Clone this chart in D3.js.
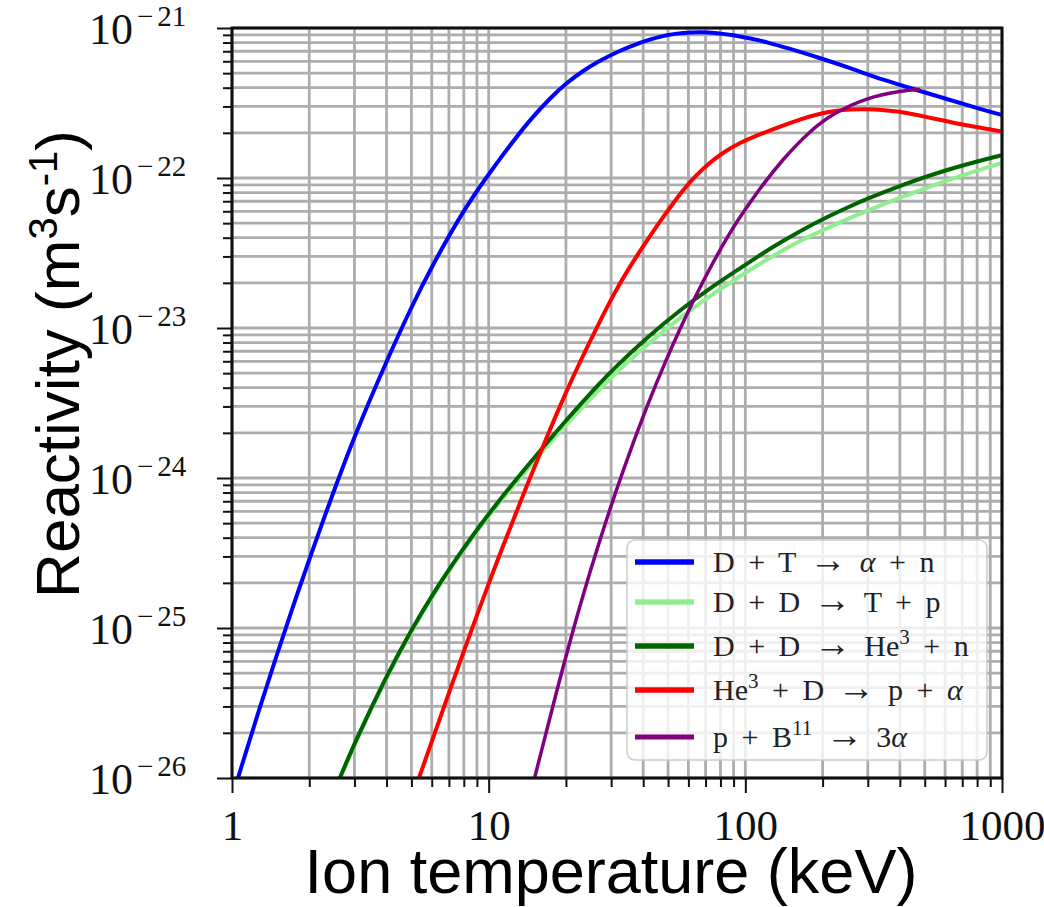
<!DOCTYPE html>
<html>
<head>
<meta charset="utf-8">
<script src="https://cdn.jsdelivr.net/npm/d3@7/dist/d3.min.js"></script>
<style>
  html, body { margin: 0; padding: 0; background: #fff; }
  svg { display: block; }
</style>
</head>
<body>
<svg id="chart" width="1044" height="907"></svg>
<script>
// Fusion reactivity <sigma v> (m^3 s^-1) versus ion temperature (keV)

// D + T -> alpha + n
const dtTemp = [1.055, 1.25, 1.5, 1.75, 2, 2.5, 3, 4, 5, 6, 8, 10, 12, 14.5, 17.3, 20, 23.3, 27, 31.6, 36, 42.4, 50, 57, 66.5, 78, 89.5, 105, 121, 150, 190, 256, 344, 466, 628, 845, 1000];
const dtRate = [1.0e-26, 2.57e-26, 6.76e-26, 1.48e-25, 2.88e-25, 8.32e-25, 1.91e-24, 6.03e-24, 1.38e-23, 2.57e-23, 6.17e-23, 1.06e-22, 1.62e-22, 2.45e-22, 3.39e-22, 4.27e-22, 5.19e-22, 6.03e-22, 6.92e-22, 7.59e-22, 8.41e-22, 9.02e-22, 9.29e-22, 9.4e-22, 9.27e-22, 8.97e-22, 8.51e-22, 8.07e-22, 7.24e-22, 6.41e-22, 5.41e-22, 4.5e-22, 3.86e-22, 3.31e-22, 2.84e-22, 2.63e-22];

// D + D -> T + p
const ddTpTemp = [2.63, 3, 4, 5, 6, 7.3, 9.25, 11, 13.25, 16.8, 20.1, 22.7, 27.2, 30.6, 41.3, 55.7, 75, 101.6, 130, 163, 214, 256, 300, 400, 530, 707, 1000];
const ddTpRate = [9.77e-27, 1.67e-26, 4.71e-26, 9.53e-26, 1.6e-25, 2.68e-25, 4.73e-25, 6.85e-25, 1.0e-24, 1.62e-24, 2.28e-24, 2.84e-24, 3.94e-24, 4.86e-24, 7.76e-24, 1.17e-23, 1.7e-23, 2.37e-23, 3.08e-23, 3.81e-23, 4.73e-23, 5.42e-23, 6.07e-23, 7.38e-23, 8.83e-23, 1.05e-22, 1.26e-22];

// D + D -> He3 + n
const ddHeTemp = [2.63, 3, 4, 5, 6, 7.3, 9.25, 11, 13.25, 16.8, 20.1, 22.7, 27.2, 30.6, 41.3, 55.7, 75, 101.6, 130, 163, 214, 256, 300, 400, 530, 707, 1000];
const ddHeRate = [1.0e-26, 1.71e-26, 4.82e-26, 9.75e-26, 1.64e-25, 2.74e-25, 4.84e-25, 7.1e-25, 1.05e-24, 1.71e-24, 2.44e-24, 3.08e-24, 4.32e-24, 5.33e-24, 8.61e-24, 1.32e-23, 1.91e-23, 2.69e-23, 3.53e-23, 4.43e-23, 5.62e-23, 6.49e-23, 7.3e-23, 8.87e-23, 1.05e-22, 1.22e-22, 1.42e-22];

// He3 + D -> p + alpha
const heDTemp = [5.35, 6.27, 7.28, 8.71, 10.75, 13.2, 16.9, 20.1, 22.7, 27.2, 30.6, 34.5, 38.9, 43.2, 46.5, 52, 57.2, 64, 72.8, 82, 95.3, 115, 140, 165, 190, 225, 256, 300, 340, 389, 450, 524, 610, 707, 845, 1000];
const heDRate = [1.0e-26, 2.16e-26, 4.47e-26, 1.05e-25, 2.75e-25, 6.76e-25, 1.91e-24, 3.8e-24, 5.96e-24, 1.12e-23, 1.66e-23, 2.37e-23, 3.27e-23, 4.27e-23, 5.13e-23, 6.68e-23, 8.32e-23, 1.035e-22, 1.27e-22, 1.48e-22, 1.72e-22, 1.97e-22, 2.24e-22, 2.47e-22, 2.66e-22, 2.81e-22, 2.87e-22, 2.88e-22, 2.85e-22, 2.78e-22, 2.67e-22, 2.52e-22, 2.39e-22, 2.26e-22, 2.15e-22, 2.04e-22];

// p + B11 -> 3 alpha
const pBTemp = [15.1, 18.4, 22.7, 27.4, 33.5, 41.3, 49.4, 55.7, 64.6, 75, 84.6, 92.8, 111, 140, 179, 220, 298, 401, 479];
const pBRate = [1.0e-26, 3.83e-26, 1.44e-25, 4.12e-25, 1.15e-24, 3.01e-24, 6.27e-24, 9.89e-24, 1.69e-23, 2.76e-23, 3.96e-23, 5.14e-23, 8.05e-23, 1.34e-22, 2.07e-22, 2.7e-22, 3.44e-22, 3.8e-22, 3.91e-22];

// Legend labels ("^n" marks a superscript)
const reactionLabels = ["D + T → α + n", "D + D → T + p", "D + D → He^3 + n", "He^3 + D → p + α", "p + B^11 → 3α"];

// Axis ticks
const xTickValues = [1, 10, 100, 1000];
const yTickExponents = [-21, -22, -23, -24, -25, -26];

const series = [
  { label: reactionLabels[0], temp: dtTemp, rate: dtRate },
  { label: reactionLabels[1], temp: ddTpTemp, rate: ddTpRate },
  { label: reactionLabels[2], temp: ddHeTemp, rate: ddHeRate },
  { label: reactionLabels[3], temp: heDTemp, rate: heDRate },
  { label: reactionLabels[4], temp: pBTemp, rate: pBRate }
];
const lineColors = ["#0000ff", "#90ee90", "#006400", "#ff0000", "#800080"];
const lineWidths = [4, 4, 4, 4, 3.5];

const svg = d3.select("#chart");
const plot = { left: 232, right: 1002, top: 28, bottom: 778 };

const x = d3.scaleLog().domain([1, 1000]).range([plot.left, plot.right]);
const y = d3.scaleLog().domain([1e-26, 1e-21]).range([plot.bottom, plot.top]);

const xMajor = xTickValues;
const yMajor = yTickExponents.map(e => Math.pow(10, e));
const xMinor = [];
for (let d = 1; d < 1000; d *= 10) for (let m = 2; m <= 9; m++) xMinor.push(d * m);
const yMinor = [];
for (let e = -26; e < -21; e++) for (let m = 2; m <= 9; m++) yMinor.push(m * Math.pow(10, e));

// Grid (major and minor)
const grid = svg.append("g").attr("stroke", "#adadad").attr("stroke-width", 2.8);
grid.selectAll("line.gx").data(xMajor.concat(xMinor)).join("line")
  .attr("class", "gx")
  .attr("x1", d => x(d)).attr("x2", d => x(d))
  .attr("y1", plot.top).attr("y2", plot.bottom);
grid.selectAll("line.gy").data(yMajor.concat(yMinor)).join("line")
  .attr("class", "gy")
  .attr("x1", plot.left).attr("x2", plot.right)
  .attr("y1", d => y(d)).attr("y2", d => y(d));

// Curves (smoothed B-spline through the sampled reactivities)
svg.append("defs").append("clipPath").attr("id", "plotClip")
  .append("rect")
  .attr("x", plot.left).attr("y", plot.top)
  .attr("width", plot.right - plot.left).attr("height", plot.bottom - plot.top);

const line = d3.line()
  .x(d => x(d[0]))
  .y(d => y(d[1]))
  .curve(d3.curveBasis);

const curves = svg.append("g").attr("clip-path", "url(#plotClip)");
series.forEach((s, i) => {
  curves.append("path")
    .datum(d3.zip(s.temp, s.rate))
    .attr("d", line)
    .attr("fill", "none")
    .attr("stroke", lineColors[i])
    .attr("stroke-width", lineWidths[i])
    .attr("stroke-linejoin", "round");
});

// Frame
svg.append("rect")
  .attr("x", plot.left).attr("y", plot.top)
  .attr("width", plot.right - plot.left).attr("height", plot.bottom - plot.top)
  .attr("fill", "none").attr("stroke", "#111").attr("stroke-width", 3);

// Axes: major and minor ticks
function styleAxis(g) {
  g.select(".domain").remove();
  g.selectAll(".tick line").attr("stroke", "#111").attr("stroke-width", 2);
}
const xAxisG = svg.append("g").attr("transform", `translate(0,${plot.bottom})`);
xAxisG.append("g").call(d3.axisBottom(x).tickValues(xMinor).tickSize(9).tickFormat("")).call(styleAxis);
const xMajorG = xAxisG.append("g").call(d3.axisBottom(x).tickValues(xMajor).tickSize(15).tickFormat(d3.format("d"))).call(styleAxis);
xMajorG.selectAll(".tick text")
  .attr("y", 62).attr("dy", 0)
  .attr("fill", "#111")
  .style("font-family", "'Liberation Serif', 'DejaVu Serif', serif")
  .style("font-size", "43px");

const yAxisG = svg.append("g").attr("transform", `translate(${plot.left},0)`);
yAxisG.append("g").call(d3.axisLeft(y).tickValues(yMinor).tickSize(9).tickFormat("")).call(styleAxis);
const yMajorG = yAxisG.append("g").call(d3.axisLeft(y).tickValues(yMajor).tickSize(15).tickFormat("")).call(styleAxis);
yMajorG.selectAll(".tick").each(function(d) {
  const exp = Math.round(Math.log10(d));
  const t = d3.select(this).append("text")
    .attr("x", -143).attr("y", 15)
    .attr("text-anchor", "start")
    .attr("fill", "#111")
    .style("font-family", "'Liberation Serif', 'DejaVu Serif', serif");
  t.append("tspan").style("font-size", "44px").text("10");
  t.append("tspan").attr("dx", 4).attr("dy", -18).style("font-size", "29px").text("−");
  t.append("tspan").attr("dx", 4).style("font-size", "29px").text(String(Math.abs(exp)));
});

// Axis titles
svg.append("text")
  .attr("x", (plot.left + plot.right) / 2 - 6).attr("y", 893)
  .attr("text-anchor", "middle")
  .style("font-family", "'Liberation Sans', Arial, sans-serif")
  .style("font-size", "63px")
  .attr("fill", "#000")
  .text("Ion temperature (keV)");

const yTitle = svg.append("text")
  .attr("transform", "translate(79,364) rotate(-90)")
  .attr("text-anchor", "middle")
  .style("font-family", "'Liberation Sans', Arial, sans-serif")
  .style("font-size", "62px")
  .attr("fill", "#000");
yTitle.append("tspan").text("Reactivity (m");
yTitle.append("tspan").attr("dy", -22).style("font-size", "40px").text("3");
yTitle.append("tspan").attr("dy", 22).text("s");
yTitle.append("tspan").attr("dy", -22).style("font-size", "40px").text("-1");
yTitle.append("tspan").attr("dy", 22).text(")");

// Legend
const legend = svg.append("g").attr("transform", "translate(627,540)");
legend.append("rect")
  .attr("width", 360).attr("height", 220).attr("rx", 8)
  .attr("fill", "#fff").attr("fill-opacity", 0.8)
  .attr("stroke", "#cccccc").attr("stroke-width", 1.5);
const rowOffsets = [22, 62, 106, 150, 197];
series.forEach((s, i) => {
  const row = legend.append("g").attr("transform", `translate(0,${rowOffsets[i]})`);
  row.append("line")
    .attr("x1", 8).attr("x2", 67).attr("y1", 0).attr("y2", 0)
    .attr("stroke", lineColors[i]).attr("stroke-width", lineWidths[i] + 1.4);
  const txt = row.append("text")
    .attr("x", 86).attr("y", 10)
    .attr("fill", "#222")
    .style("font-family", "'Liberation Serif', 'DejaVu Serif', serif")
    .style("font-size", "30px")
    .style("word-spacing", "6px")
    .attr("xml:space", "preserve");
  // split label into plain text, superscripts, arrows and Greek letters
  const parts = s.label.split(/(\^\d+|α|→)/).filter(p => p.length);
  let raised = false;
  parts.forEach(p => {
    if (p.startsWith("^")) {
      txt.append("tspan").attr("dy", -12).style("font-size", "21px").text(p.slice(1));
      raised = true;
    } else {
      const ts = txt.append("tspan").text(p);
      if (raised) { ts.attr("dy", 12); raised = false; }
      if (p === "α") ts.style("font-style", "italic");
      if (p === "→") ts.style("font-size", "37px");
    }
  });
});
</script>
</body>
</html>
